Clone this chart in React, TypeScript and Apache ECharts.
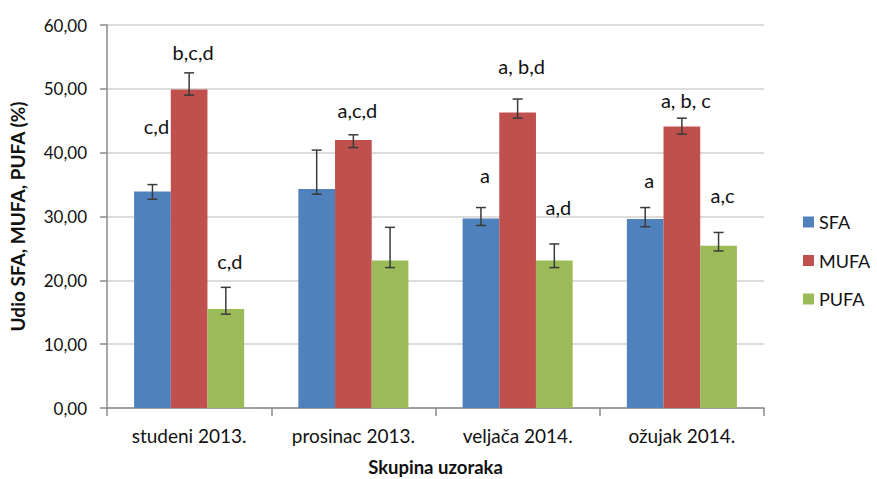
import React, { useEffect, useRef } from "react";
import * as echarts from "echarts";

const categories = ["studeni 2013.", "prosinac 2013.", "veljača 2014.", "ožujak 2014."];
const seriesNames = ["SFA", "MUFA", "PUFA"];
const colors = ["#4F81BD", "#C0504D", "#9BBB59"];

const sfa = [33.9, 34.3, 29.7, 29.6];
const mufa = [49.9, 42.0, 46.3, 44.1];
const pufa = [15.5, 23.1, 23.1, 25.4];

const sfaLow = [32.7, 33.5, 28.6, 28.4];
const sfaHigh = [35.0, 40.4, 31.4, 31.4];
const mufaLow = [49.0, 40.8, 45.4, 42.9];
const mufaHigh = [52.5, 42.8, 48.4, 45.4];
const pufaLow = [14.7, 22.0, 22.0, 24.6];
const pufaHigh = [18.9, 28.3, 25.7, 27.5];

const sfaLabels = ["c,d", "", "a", "a"];
const sfaLabelAt = [44.1, 0, 36.5, 35.7];
const mufaLabels = ["b,c,d", "a,c,d", "a, b,d", "a, b, c"];
const mufaLabelAt = [55.8, 46.7, 53.5, 48.3];
const pufaLabels = ["c,d", "", "a,d", "a,c"];
const pufaLabelAt = [23.0, 0, 31.5, 33.4];

const yTicks = [0, 10, 20, 30, 40, 50, 60];

const FONT = "Lato";
const CAT_GAP = 0.33;

export default function App() {
  const ref = useRef<HTMLDivElement>(null);

  useEffect(() => {
    if (!ref.current) return;
    const chart = echarts.init(ref.current, null, { renderer: "svg" });

    const values = [sfa, mufa, pufa];
    const lows = [sfaLow, mufaLow, pufaLow];
    const highs = [sfaHigh, mufaHigh, pufaHigh];
    const labels = [sfaLabels, mufaLabels, pufaLabels];
    const labelAt = [sfaLabelAt, mufaLabelAt, pufaLabelAt];

    const barSeries = seriesNames.map((name, k) => ({
      name,
      type: "bar",
      data: values[k],
      barGap: "0%",
      barCategoryGap: "33%",
      itemStyle: { color: colors[k] },
      z: 2,
    }));

    const errSeries = seriesNames.map((name, k) => ({
      name: name + "-err",
      type: "custom",
      z: 5,
      data: categories.map((_, i) => [i, lows[k][i], highs[k][i]]),
      encode: { x: 0, y: [1, 2] },
      renderItem: (params: any, api: any) => {
        const ci = api.value(0);
        const lo = api.value(1);
        const hi = api.value(2);
        const center = api.coord([ci, 0]);
        const catW = api.size([1, 0])[0];
        const barW = (catW * (1 - CAT_GAP)) / 3;
        const x = center[0] + (k - 1) * barW;
        const yLo = api.coord([ci, lo])[1];
        const yHi = api.coord([ci, hi])[1];
        const cap = 5;
        const st = { stroke: "#3a3a3a", lineWidth: 1.5 };
        const children: any[] = [
          { type: "line", shape: { x1: x, y1: yLo, x2: x, y2: yHi }, style: st },
          { type: "line", shape: { x1: x - cap, y1: yLo, x2: x + cap, y2: yLo }, style: st },
          { type: "line", shape: { x1: x - cap, y1: yHi, x2: x + cap, y2: yHi }, style: st },
        ];
        const txt = labels[k][params.dataIndex];
        if (txt) {
          const yl = api.coord([ci, labelAt[k][params.dataIndex]])[1];
          children.push({
            type: "text",
            x: x + 4,
            y: yl,
            style: {
              text: txt,
              fontFamily: FONT,
              fontSize: 20,
              fill: "#111111",
              align: "center",
              verticalAlign: "middle",
            },
          });
        }
        return { type: "group", children };
      },
    }));

    const option: any = {
      animation: false,
      backgroundColor: "#ffffff",
      textStyle: { fontFamily: FONT },
      grid: { left: 107, right: 113, top: 25, bottom: 71, containLabel: false, outerBoundsMode: "none" },
      legend: {
        orient: "vertical",
        left: 803,
        top: 212,
        padding: 0,
        itemWidth: 11,
        itemHeight: 11,
        itemGap: 18.5,
        icon: "rect",
        data: seriesNames,
        textStyle: { fontFamily: FONT, fontSize: 18, color: "#111111", lineHeight: 20, padding: [0, 0, 0, 0] },
      },
      xAxis: {
        type: "category",
        data: categories,
        name: "Skupina uzoraka",
        nameLocation: "middle",
        nameGap: 49,
        nameTextStyle: { fontFamily: FONT, fontSize: 18.5, fontWeight: "bold", color: "#111111", lineHeight: 20 },
        axisLine: { lineStyle: { color: "#8a8a8a", width: 1.5 } },
        axisTick: { show: true, length: 8, lineStyle: { color: "#8a8a8a", width: 1.5 } },
        axisLabel: { fontFamily: FONT, fontSize: 19, color: "#111111", margin: 18 },
      },
      yAxis: {
        type: "value",
        min: 0,
        max: 60,
        interval: 10,
        name: "Udio SFA, MUFA, PUFA (%)",
        nameLocation: "middle",
        nameGap: 80,
        nameTextStyle: { fontFamily: FONT, fontSize: 19, fontWeight: "bold", color: "#111111" },
        axisLine: { show: true, lineStyle: { color: "#8a8a8a", width: 1.5 } },
        axisTick: { show: true, length: 7, lineStyle: { color: "#8a8a8a", width: 1.5 } },
        splitLine: { lineStyle: { color: "#d0d0d0", width: 1.5 } },
        axisLabel: {
          fontFamily: FONT,
          fontSize: 17,
          color: "#111111",
          margin: 20,
          formatter: (v: number) => (yTicks.includes(v) ? v.toFixed(2).replace(".", ",") : ""),
        },
      },
      series: [...barSeries, ...errSeries],
    };

    chart.setOption(option);
    return () => chart.dispose();
  }, []);

  return <div ref={ref} style={{ width: 877, height: 479, position: "absolute", left: 0, top: 0 }} />;
}
